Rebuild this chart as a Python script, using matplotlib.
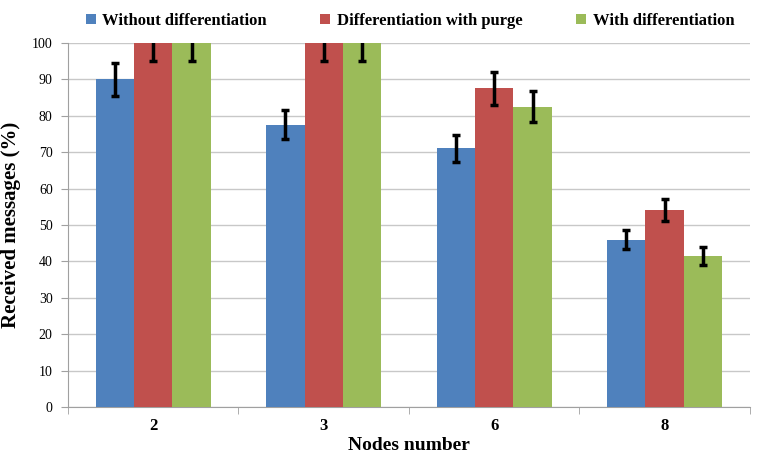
import matplotlib
matplotlib.use("Agg")
import matplotlib.pyplot as plt
import numpy as np

nodes = ["2", "3", "6", "8"]
series_names = ["Without differentiation", "Differentiation with purge", "With differentiation"]
without_diff = [90, 77.5, 71, 46]
diff_purge = [100, 100, 87.5, 54]
with_diff = [100, 100, 82.5, 41.5]
err_without = [4.5, 4, 3.8, 2.7]
err_purge = [5, 5, 4.5, 3]
err_with = [5, 5, 4.3, 2.4]

colors = ["#4F81BD", "#C0504D", "#9BBB59"]

plt.rcParams['font.family'] = ['Liberation Serif', 'DejaVu Serif']

fig = plt.figure(figsize=(7.59, 4.61), dpi=100)
ax = fig.add_axes([0.0896, 0.117, 0.8984, 0.79])

x = np.arange(len(nodes))
w = 0.225
vals = [without_diff, diff_purge, with_diff]
errs = [err_without, err_purge, err_with]
for i in range(3):
    ax.bar(x + (i - 1) * w, vals[i], w, color=colors[i], label=series_names[i],
           yerr=errs[i], error_kw=dict(ecolor="black", elinewidth=2.5, capsize=3, capthick=2.5),
           zorder=3)

ax.set_xlim(-0.5, 3.5)
ax.set_ylim(0, 100)
ax.set_yticks(range(0, 101, 10))
ax.yaxis.grid(True, color="#c8c8c8", linewidth=1, zorder=0)
ax.set_xticks(x)
ax.set_xticklabels(nodes, fontsize=12, fontweight="bold")
ax.tick_params(axis="x", length=0, pad=8)
ax.set_xticks(np.arange(-0.5, 4, 1), minor=True)
ax.tick_params(axis="x", which="minor", length=5, color="#a0a0a0")
ax.tick_params(axis="y", labelsize=10, length=5, color="#a0a0a0", pad=6)

for s in ["top", "right"]:
    ax.spines[s].set_visible(False)
ax.spines["left"].set_color("#a0a0a0")
ax.spines["bottom"].set_color("#a0a0a0")

ax.set_ylabel("Received messages (%)", fontsize=15, fontweight="bold", labelpad=8)
ax.set_xlabel("Nodes number", fontsize=14, fontweight="bold", labelpad=2)

fig.legend(loc="center", bbox_to_anchor=(0.54, 0.955), ncol=3, frameon=False,
           prop=dict(size=12, weight="bold"), handlelength=0.6, handleheight=0.6,
           handletextpad=0.4, columnspacing=3.2)

fig.savefig("out.png", dpi=100)
